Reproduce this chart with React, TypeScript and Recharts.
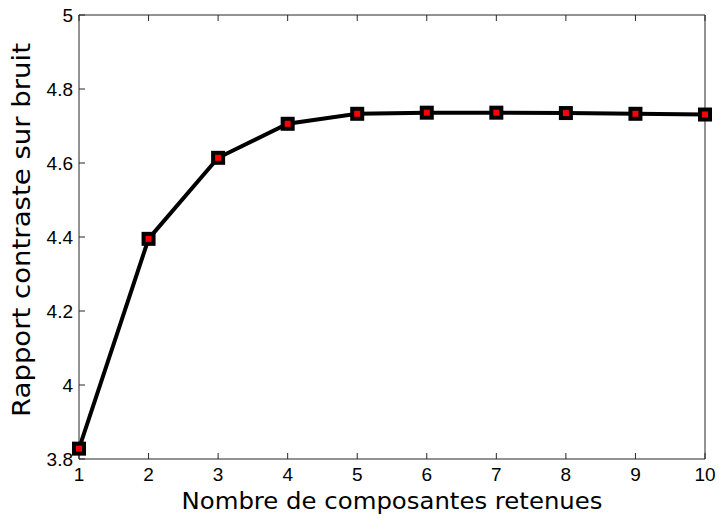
import { Label, Line, LineChart, XAxis, YAxis } from "recharts";

// number of retained components vs. contrast-to-noise ratio
const components = [1, 2, 3, 4, 5, 6, 7, 8, 9, 10];
const ratio = [3.828, 4.395, 4.614, 4.706, 4.733, 4.736, 4.736, 4.735, 4.733, 4.731];

const xTicks = [1, 2, 3, 4, 5, 6, 7, 8, 9, 10];
const yTicks = [3.8, 4, 4.2, 4.4, 4.6, 4.8, 5];

const xTitle = "Nombre de composantes retenues";
const yTitle = "Rapport contraste sur bruit";

const data = components.map((c, i) => ({ c, r: ratio[i] }));

const axisColor = "#262626";
const tickFamily = "'Liberation Sans', Arial, sans-serif";
const titleFamily = "'DejaVu Sans', sans-serif";

const fmt = (v: number) => String(Number(v.toFixed(1)));

const BottomTick = (props: any) => {
  const { x, y, payload } = props;
  return (
    <text x={x} y={y + 14} textAnchor="middle" fontFamily={tickFamily} fontSize={19} fill="#000">
      {payload.value}
    </text>
  );
};

const LeftTick = (props: any) => {
  const { x, y, payload } = props;
  return (
    <text x={x} y={y + 7} textAnchor="end" fontFamily={tickFamily} fontSize={19} fill="#000">
      {fmt(payload.value)}
    </text>
  );
};

// titles are a little wider than the font's natural width
const XTitle = (props: any) => {
  const { viewBox } = props;
  const cx = viewBox.x + viewBox.width / 2;
  const by = viewBox.y + viewBox.height - 10;
  return (
    <text
      x={cx}
      y={by}
      textAnchor="middle"
      fontFamily={titleFamily}
      fontSize={23}
      textLength={421}
      lengthAdjust="spacingAndGlyphs"
      fill="#000"
    >
      {xTitle}
    </text>
  );
};

const YTitle = (props: any) => {
  const { viewBox } = props;
  const bx = viewBox.x + 30;
  const cy = viewBox.y + viewBox.height / 2 - 7;
  return (
    <text
      x={bx}
      y={cy}
      transform={`rotate(-90, ${bx}, ${cy})`}
      textAnchor="middle"
      fontFamily={titleFamily}
      fontSize={24}
      textLength={374}
      lengthAdjust="spacingAndGlyphs"
      fill="#000"
    >
      {yTitle}
    </text>
  );
};

// square marker: thick black edge, red face
const SquareDot = (props: any) => {
  const { cx, cy } = props;
  if (cx == null || cy == null) return null;
  return (
    <rect
      key={`d-${cx}`}
      x={cx - 5}
      y={cy - 5}
      width={10}
      height={10}
      fill="#ff0000"
      stroke="#000"
      strokeWidth={4}
    />
  );
};

const noLabel = () => <g />;

export default function App() {
  return (
    <div style={{ position: "absolute", left: 0, top: 0, background: "#fff" }}>
      <LineChart width={719} height={519} data={data} margin={{ top: 14, right: 13, bottom: 0, left: 0 }}>
        <XAxis
          dataKey="c"
          type="number"
          domain={[1, 10]}
          ticks={xTicks}
          height={60}
          tickSize={-6}
          tickMargin={14}
          stroke={axisColor}
          tick={<BottomTick />}
        >
          <Label content={<XTitle />} />
        </XAxis>
        <XAxis
          xAxisId="top"
          dataKey="c"
          type="number"
          orientation="top"
          domain={[1, 10]}
          ticks={xTicks}
          height={1}
          tickSize={-6}
          stroke={axisColor}
          tick={noLabel}
        />
        <YAxis
          type="number"
          domain={[3.8, 5]}
          ticks={yTicks}
          width={79}
          tickSize={-6}
          tickMargin={12}
          stroke={axisColor}
          tick={<LeftTick />}
        >
          <Label content={<YTitle />} />
        </YAxis>
        <YAxis
          yAxisId="right"
          type="number"
          orientation="right"
          domain={[3.8, 5]}
          ticks={yTicks}
          width={1}
          tickSize={-6}
          stroke={axisColor}
          tick={noLabel}
        />
        <Line
          type="linear"
          dataKey="r"
          stroke="#000"
          strokeWidth={4}
          dot={<SquareDot />}
          activeDot={false}
          isAnimationActive={false}
        />
      </LineChart>
    </div>
  );
}
